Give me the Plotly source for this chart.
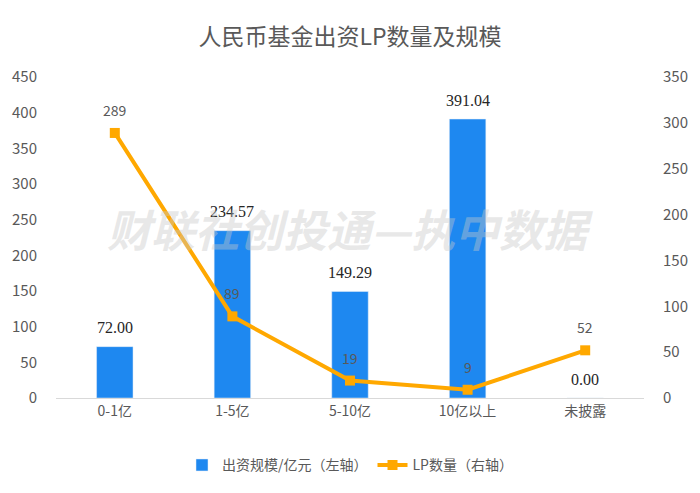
import plotly.graph_objects as go

categories = ["0-1亿", "1-5亿", "5-10亿", "10亿以上", "未披露"]
amount = [72.00, 234.57, 149.29, 391.04, 0.00]
lp_count = [289, 89, 19, 9, 52]
left_ticks = list(range(0, 451, 50))
right_ticks = list(range(0, 351, 50))

FONT = "Noto Sans CJK SC, Noto Sans, sans-serif"
GREY = "#595959"

fig = go.Figure()
fig.add_trace(go.Bar(
    x=categories, y=amount, name="出资规模/亿元（左轴）",
    marker_color="#1E88F0", width=0.31,
))
fig.add_trace(go.Scatter(
    x=categories, y=lp_count, name="LP数量（右轴）", yaxis="y2",
    mode="lines+markers",
    line=dict(color="#FFA800", width=4),
    marker=dict(symbol="square", size=10, color="#FFA800"),
    cliponaxis=False,
))

for c, v in zip(categories, amount):
    fig.add_annotation(x=c, y=v, xref="x", yref="y", text=f"{v:.2f}",
                       showarrow=False, yshift=19,
                       font=dict(size=16, color="#262626", family="Liberation Serif, serif"))
for c, v in zip(categories, lp_count):
    fig.add_annotation(x=c, y=v, xref="x", yref="y2", text=str(v),
                       showarrow=False, yshift=23,
                       font=dict(size=14, color=GREY, family=FONT))

fig.add_annotation(
    text="<b><i>财联社创投通—执中数据</i></b>", xref="paper", yref="paper",
    x=0.5, y=0.53, showarrow=False,
    font=dict(size=44, color="rgba(200,200,200,0.42)", family=FONT),
)

fig.update_layout(
    width=700, height=493,
    margin=dict(l=56, r=48, t=77, b=94),
    paper_bgcolor="white", plot_bgcolor="white",
    title=dict(text="人民币基金出资LP数量及规模", x=0.5, xanchor="center",
               y=0.925, yanchor="middle",
               font=dict(size=23, color=GREY, family=FONT)),
    font=dict(family=FONT, color=GREY, size=14),
    xaxis=dict(showline=True, linecolor="#d9d9d9", linewidth=1,
               tickfont=dict(size=14, color=GREY), ticks=""),
    yaxis=dict(range=[0, 450], tickvals=left_ticks, showgrid=False,
               zeroline=False, tickfont=dict(size=15, color=GREY),
               ticklabelstandoff=18),
    yaxis2=dict(range=[0, 350], tickvals=right_ticks, overlaying="y",
                side="right", showgrid=False, zeroline=False,
                tickfont=dict(size=15, color=GREY), ticklabelstandoff=18),
    legend=dict(orientation="h", x=0.5, xanchor="center", y=-0.16,
                yanchor="top", font=dict(size=14, color=GREY),
                itemwidth=30),
    showlegend=True,
)

fig.write_html("out.html")
